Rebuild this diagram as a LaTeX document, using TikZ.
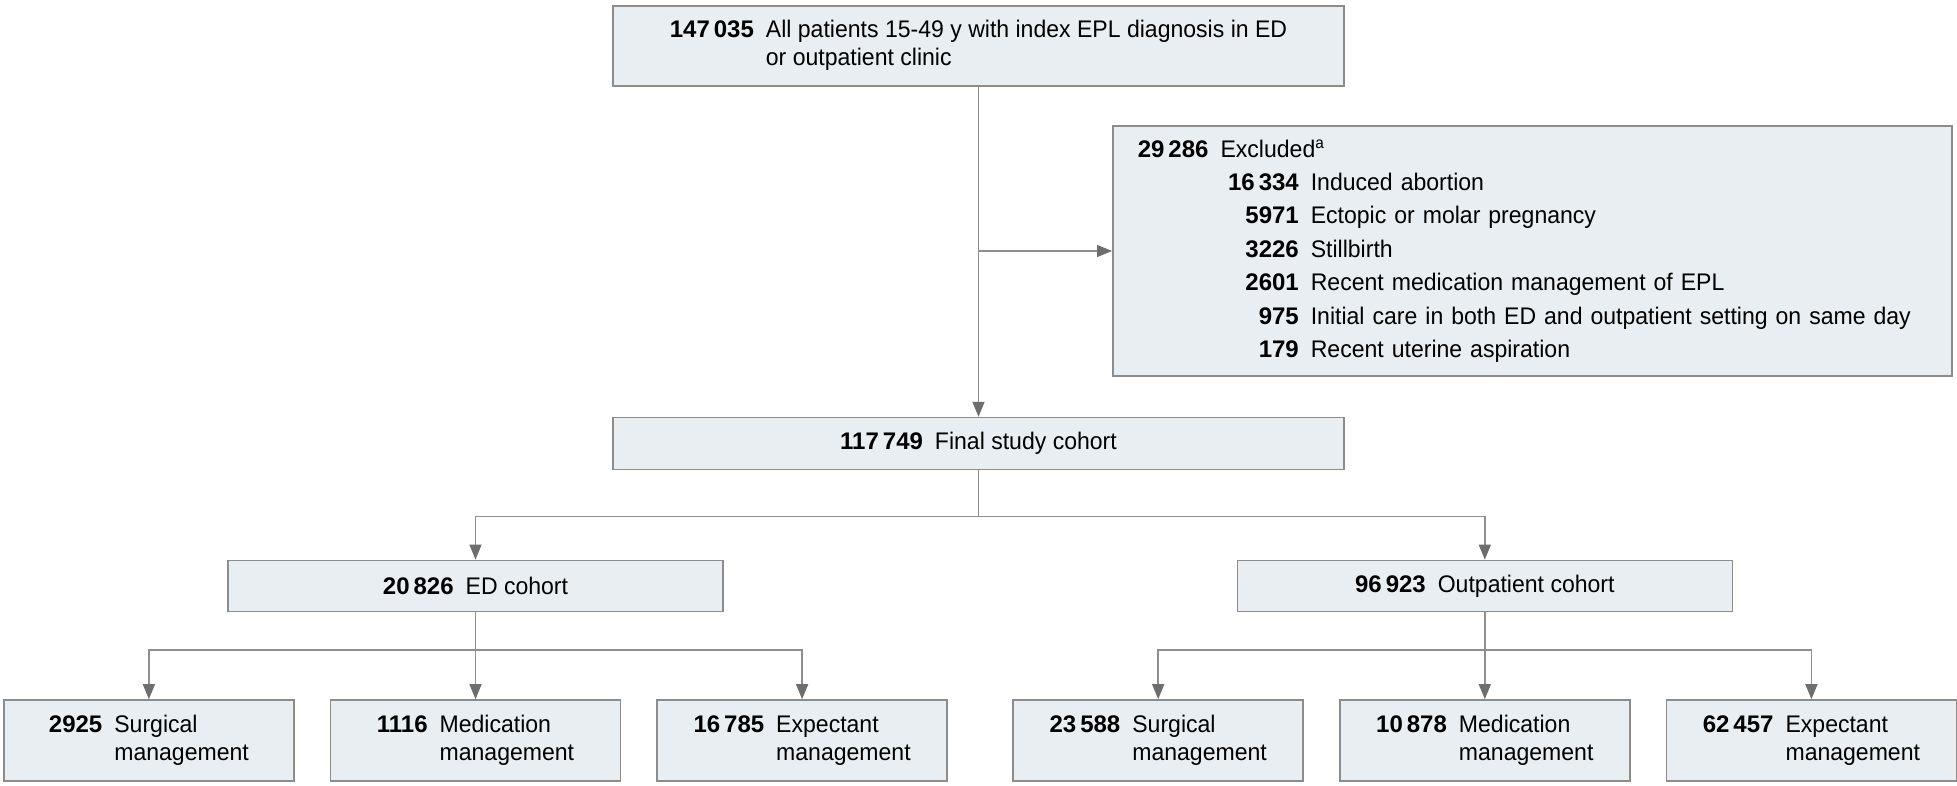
\documentclass[tikz,border=0pt]{standalone}
\usepackage{fontspec}
\setmainfont{Liberation Sans}[FakeStretch=0.96, BoldFeatures={FakeStretch=1.0}]
\usepackage{tikz}
\usetikzlibrary{arrows.meta,positioning,calc}
\definecolor{boxfill}{HTML}{E8EEF2}
\definecolor{boxline}{HTML}{8C8C8C}
\definecolor{wire}{HTML}{8E8E8E}
\definecolor{tip}{HTML}{6E6E6E}
\newcommand{\cnt}[3]{\begin{tabular}{@{}l@{\hspace{6pt}}l@{}}\textbf{#1} & #2\\ & #3\end{tabular}}
\newcommand{\cntone}[2]{\textbf{#1}\hspace{6pt}#2}
\newcommand{\exitem}[2]{\makebox[80.5pt][r]{\textbf{#1}}\hspace{6pt}#2}

\begin{document}
\begin{tikzpicture}[
  x=1pt, y=1pt,
  box/.style={draw=boxline, line width=0.8pt, fill=boxfill, inner sep=0pt, align=center, font=\fontsize{12}{14}\selectfont},
  wide/.style={box, minimum width=365.5pt},
  cohort/.style={box, minimum width=247.5pt, minimum height=25.5pt},
  leaf/.style={box, minimum width=145pt, minimum height=40.5pt},
  link/.style={draw=wire, line width=0.75pt},
  arr/.style={link, -{Triangle[length=7.5pt,width=6pt,color=tip]}},
  node distance=43.5pt and 17.5pt
]
  \fill[white] (0,0) rectangle (978.5,-393);
  \useasboundingbox (0,0) rectangle (978.5,-393);

  \node[wide, minimum height=40pt] (all) at (489.25,-23)
    {\cnt{147\,035}{All patients 15-49 y with index EPL diagnosis in ED}{or outpatient clinic}};
  \node[wide, minimum height=26pt, below=165pt of all] (final)
    {\cntone{117\,749}{Final study cohort}};
  \node[box, anchor=west, minimum height=125pt, text width=394.5pt, inner xsep=12.5pt,
        align=left, font=\fontsize{12}{16.7}\selectfont] (excl) at (556,-125.5)
    {\textbf{29\,286}\hspace{6pt}Excluded\textsuperscript{a}\\
     \exitem{16\,334}{Induced abortion}\\
     \exitem{5971}{Ectopic or molar pregnancy}\\
     \exitem{3226}{Stillbirth}\\
     \exitem{2601}{Recent medication management of EPL}\\
     \mbox{\exitem{975}{Initial care in both ED and outpatient setting on same day}}\\
     \exitem{179}{Recent uterine aspiration}};

  % management rows
  \node[leaf] (ed2) at (237.75,-370.25) {\cnt{1116}{Medication}{management}};
  \node[leaf, left=of ed2] (ed1) {\cnt{2925}{Surgical}{management}};
  \node[leaf, right=of ed2] (ed3) {\cnt{16\,785}{Expectant}{management}};
  \node[leaf, right=32.25pt of ed3] (op1) {\cnt{23\,588}{Surgical}{management}};
  \node[leaf, right=of op1] (op2) {\cnt{10\,878}{Medication}{management}};
  \node[leaf, right=of op2] (op3) {\cnt{62\,457}{Expectant}{management}};

  \node[cohort, above=of ed2] (ed) {\cntone{20\,826}{ED cohort}};
  \node[cohort, above=of op2] (op) {\cntone{96\,923}{Outpatient cohort}};

  % connectors
  \draw[arr] (all) -- (final);
  \coordinate (branch) at (all.south |- excl.west);
  \draw[arr] (branch) -- (excl.west);

  \coordinate (split) at ($(final.south)+(0,-23)$);
  \draw[link] (final.south) -- (split);
  \draw[arr] (split) -| (ed.north);
  \draw[arr] (split) -| (op.north);

  \coordinate (edsplit) at ($(ed.south)+(0,-19)$);
  \draw[link] (ed.south) -- (edsplit);
  \draw[arr] (edsplit) -| (ed1.north);
  \draw[arr] (edsplit) -- (ed2.north);
  \draw[arr] (edsplit) -| (ed3.north);

  \coordinate (opsplit) at ($(op.south)+(0,-19)$);
  \draw[link] (op.south) -- (opsplit);
  \draw[arr] (opsplit) -| (op1.north);
  \draw[arr] (opsplit) -- (op2.north);
  \draw[arr] (opsplit) -| (op3.north);
\end{tikzpicture}
\end{document}
